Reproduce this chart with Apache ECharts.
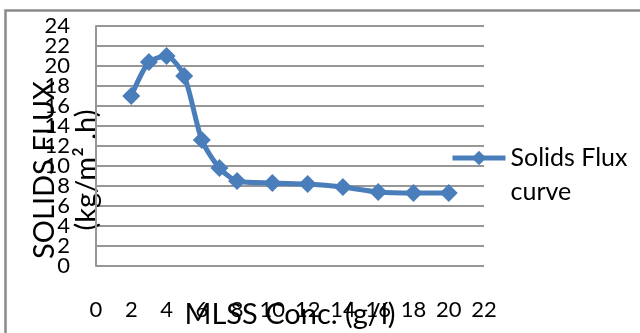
<!DOCTYPE html>
<html>
<head>
<meta charset="utf-8">
<script src="https://cdn.jsdelivr.net/npm/echarts@6/dist/echarts.min.js"></script>
<style>
  html, body { margin: 0; padding: 0; background: #fff; }
  #chart { width: 640px; height: 333px; }
</style>
</head>
<body>
<div id="chart"></div>
<script>
// MLSS concentration (g/l) and the measured solids flux at each point
const mlss = [2, 3, 4, 5, 6, 7, 8, 10, 12, 14, 16, 18, 20];
const flux = [17.0, 20.4, 21.0, 19.0, 12.6, 9.8, 8.5, 8.3, 8.2, 7.9, 7.4, 7.3, 7.3];

// Axis tick values
const xTicks = [0, 2, 4, 6, 8, 10, 12, 14, 16, 18, 20, 22];
const yTicks = [0, 2, 4, 6, 8, 10, 12, 14, 16, 18, 20, 22, 24];

const seriesName = 'Solids Flux curve';
const xTitle = 'MLSS Conc. (g/l)';
const yTitle = 'SOLIDS FLUX\n(kg/m\u00b2 .h)';

const FONT = 'Lato';
const BLUE = '#4a7ebb';
const GRID_GREY = '#979797';

// The y labels sit closer together than their font height, so they are
// split over two stacked axes (alternate ticks) to keep every one visible.
const yLabelsA = yTicks.filter((_, i) => i % 2 === 0);
const yLabelsB = yTicks.filter((_, i) => i % 2 === 1);

const yLabelStyle = { margin: 26, fontFamily: FONT, fontSize: 22, color: '#000' };

const chart = echarts.init(document.getElementById('chart'), null, { renderer: 'canvas' });

chart.setOption({
  animation: false,
  backgroundColor: '#ffffff',
  graphic: [{
    type: 'rect',
    shape: { x: 5.5, y: 10.5, width: 700, height: 400 },
    style: { fill: 'none', stroke: '#8a8a8a', lineWidth: 2.5 },
    silent: true,
    z: -1
  }],
  grid: {
    left: 96, top: 26, width: 388, height: 240,
    containLabel: false,
    outerBoundsMode: 'none'
  },
  legend: {
    left: 450,
    top: 107,
    padding: 0,
    itemWidth: 53,
    itemHeight: 18,
    itemGap: 0,
    data: [seriesName],
    formatter: () => ' \nSolids Flux\ncurve',
    lineStyle: { width: 5 },
    textStyle: { fontFamily: FONT, fontSize: 25, lineHeight: 34, color: '#000' }
  },
  xAxis: {
    type: 'value',
    min: xTicks[0],
    max: xTicks[xTicks.length - 1],
    interval: xTicks[1] - xTicks[0],
    name: xTitle,
    nameLocation: 'middle',
    nameGap: 34,
    nameMoveOverlap: false,
    nameTextStyle: { fontFamily: FONT, fontSize: 29, color: '#000' },
    axisLine: { show: false },
    axisTick: { show: false },
    splitLine: { show: false },
    axisLabel: {
      margin: 33, fontFamily: FONT, fontSize: 22, color: '#000',
      showMinLabel: true, showMaxLabel: true, hideOverlap: false
    }
  },
  yAxis: [{
    type: 'value',
    position: 'left',
    min: yTicks[0],
    max: yTicks[yTicks.length - 1],
    interval: yTicks[1] - yTicks[0],
    name: yTitle,
    nameLocation: 'middle',
    nameGap: -12,
    nameRotate: 90,
    nameMoveOverlap: false,
    nameTextStyle: {
      fontFamily: FONT, fontSize: 29, lineHeight: 42, color: '#000',
      padding: [0, 48, 0, 0]
    },
    axisLine: { show: true, lineStyle: { color: GRID_GREY, width: 2 } },
    axisTick: { show: false },
    splitLine: { show: true, lineStyle: { color: GRID_GREY, width: 2 } },
    axisLabel: Object.assign({ customValues: yLabelsA }, yLabelStyle)
  }, {
    type: 'value',
    position: 'left',
    offset: 0,
    min: yTicks[0],
    max: yTicks[yTicks.length - 1],
    interval: yTicks[1] - yTicks[0],
    axisLine: { show: false },
    axisTick: { show: false },
    splitLine: { show: false },
    axisLabel: Object.assign({ customValues: yLabelsB }, yLabelStyle)
  }],
  series: [{
    name: seriesName,
    type: 'line',
    yAxisIndex: 0,
    data: mlss.map((x, i) => [x, flux[i]]),
    smooth: 0.25,
    symbol: 'diamond',
    symbolSize: 18,
    showSymbol: true,
    lineStyle: { color: BLUE, width: 5 },
    itemStyle: { color: BLUE },
    z: 3
  }]
});
</script>
</body>
</html>
